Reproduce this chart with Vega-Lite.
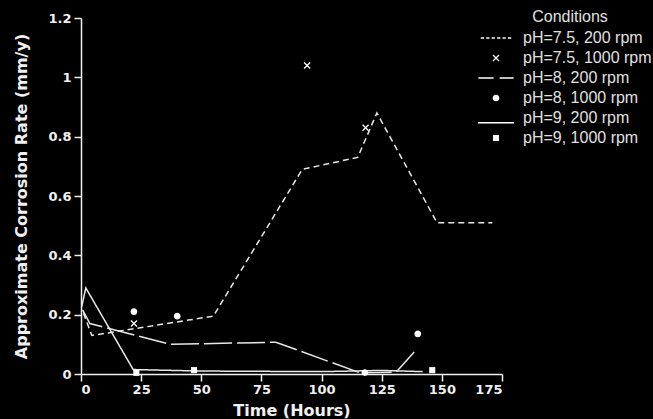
{
  "$schema": "https://vega.github.io/schema/vega-lite/v6.json",
  "width": 421,
  "height": 356,
  "autosize": "none",
  "padding": {"left": 81, "top": 18, "right": 151, "bottom": 45},
  "background": "black",
  "config": {
    "view": {"stroke": null},
    "axis": {
      "grid": false,
      "domainColor": "#f0f0f0",
      "domainWidth": 1.5,
      "tickColor": "#f0f0f0",
      "tickWidth": 1.5,
      "tickSize": 7,
      "labelColor": "#f0f0f0",
      "labelFont": "DejaVu Sans",
      "labelFontWeight": "bold",
      "labelFontSize": 13,
      "titleColor": "#f0f0f0",
      "titleFont": "DejaVu Sans",
      "titleFontWeight": "bold",
      "titleFontSize": 16
    }
  },
  "datasets": {
    "lines": [
      {"cond": "pH=7.5, 200 rpm", "t": 1, "rate": 0.205},
      {"cond": "pH=7.5, 200 rpm", "t": 4.5, "rate": 0.13},
      {"cond": "pH=7.5, 200 rpm", "t": 55, "rate": 0.195},
      {"cond": "pH=7.5, 200 rpm", "t": 92, "rate": 0.69},
      {"cond": "pH=7.5, 200 rpm", "t": 115, "rate": 0.73},
      {"cond": "pH=7.5, 200 rpm", "t": 123, "rate": 0.88},
      {"cond": "pH=7.5, 200 rpm", "t": 148, "rate": 0.51},
      {"cond": "pH=7.5, 200 rpm", "t": 171, "rate": 0.51},
      {"cond": "pH=8, 200 rpm", "t": 0.7, "rate": 0.215},
      {"cond": "pH=8, 200 rpm", "t": 3.7, "rate": 0.17},
      {"cond": "pH=8, 200 rpm", "t": 37, "rate": 0.1},
      {"cond": "pH=8, 200 rpm", "t": 81, "rate": 0.107},
      {"cond": "pH=8, 200 rpm", "t": 116, "rate": 0.004},
      {"cond": "pH=8, 200 rpm", "t": 131, "rate": 0.006},
      {"cond": "pH=8, 200 rpm", "t": 138.5, "rate": 0.074},
      {"cond": "pH=9, 200 rpm", "t": 0.3, "rate": 0.227},
      {"cond": "pH=9, 200 rpm", "t": 2, "rate": 0.29},
      {"cond": "pH=9, 200 rpm", "t": 21.7, "rate": 0.015},
      {"cond": "pH=9, 200 rpm", "t": 50, "rate": 0.01},
      {"cond": "pH=9, 200 rpm", "t": 100, "rate": 0.008},
      {"cond": "pH=9, 200 rpm", "t": 125, "rate": 0.012},
      {"cond": "pH=9, 200 rpm", "t": 142, "rate": 0.008}
    ],
    "points": [
      {"cond": "pH=7.5, 1000 rpm", "t": 22, "rate": 0.17},
      {"cond": "pH=7.5, 1000 rpm", "t": 94, "rate": 1.04},
      {"cond": "pH=7.5, 1000 rpm", "t": 118.3, "rate": 0.83},
      {"cond": "pH=8, 1000 rpm", "t": 22, "rate": 0.21},
      {"cond": "pH=8, 1000 rpm", "t": 40, "rate": 0.195},
      {"cond": "pH=8, 1000 rpm", "t": 118, "rate": 0.005},
      {"cond": "pH=8, 1000 rpm", "t": 140, "rate": 0.135},
      {"cond": "pH=9, 1000 rpm", "t": 23, "rate": 0.004},
      {"cond": "pH=9, 1000 rpm", "t": 47, "rate": 0.013},
      {"cond": "pH=9, 1000 rpm", "t": 146, "rate": 0.013}
    ]
  },
  "layer": [
    {
      "data": {"name": "lines"},
      "mark": {"type": "line", "color": "#e8e8e8", "strokeWidth": 1.5},
      "encoding": {
        "x": {
          "field": "t", "type": "quantitative",
          "scale": {"domain": [0, 175], "nice": false},
          "axis": {"values": [0, 25, 50, 75, 100, 125, 150, 175], "title": "Time (Hours)", "labelPadding": 2, "titlePadding": 6}
        },
        "y": {
          "field": "rate", "type": "quantitative",
          "scale": {"domain": [0, 1.2], "nice": false},
          "axis": {"values": [0, 0.2, 0.4, 0.6, 0.8, 1, 1.2], "format": "~g", "title": "Approximate Corrosion Rate (mm/y)", "labelPadding": 3, "titlePadding": 18}
        },
        "strokeDash": {
          "field": "cond", "type": "nominal",
          "scale": {"domain": ["pH=7.5, 200 rpm", "pH=8, 200 rpm", "pH=9, 200 rpm"], "range": [[6, 4], [28, 5], [1, 0]]},
          "legend": null
        }
      }
    },
    {
      "data": {"name": "points"},
      "mark": {"type": "point", "filled": true, "color": "white", "size": 256, "opacity": 1},
      "encoding": {
        "x": {"field": "t", "type": "quantitative"},
        "y": {"field": "rate", "type": "quantitative"},
        "shape": {
          "field": "cond", "type": "nominal",
          "scale": {
            "domain": ["pH=7.5, 200 rpm", "pH=7.5, 1000 rpm", "pH=8, 200 rpm", "pH=8, 1000 rpm", "pH=9, 200 rpm", "pH=9, 1000 rpm"],
            "range": [
              "M-1.9,-0.09H-1.5V0.09H-1.9ZM-1.22,-0.09H-0.82V0.09H-1.22ZM-0.54,-0.09H-0.14V0.09H-0.54ZM0.14,-0.09H0.54V0.09H0.14ZM0.82,-0.09H1.22V0.09H0.82ZM1.5,-0.09H1.9V0.09H1.5Z",
              "M-0.318,-0.432L0.432,0.318L0.318,0.432L-0.432,-0.318ZM0.432,-0.318L-0.318,0.432L-0.432,0.318L0.318,-0.432Z",
              "M-2.2,-0.09H-0.3V0.09H-2.2ZM0.45,-0.09H2.2V0.09H0.45Z",
              "M-0.42,0A0.42,0.42 0 1,0 0.42,0A0.42,0.42 0 1,0 -0.42,0Z",
              "M-2.25,0.5H2.25V0.68H-2.25Z",
              "M-0.38,-0.38H0.38V0.38H-0.38Z"
            ]
          },
          "legend": {
            "title": "Conditions",
            "orient": "none",
            "legendX": 407,
            "legendY": -9,
            "titleFont": "Liberation Sans",
            "titleFontSize": 16,
            "titleFontWeight": "normal",
            "titleColor": "#e0e0e0",
            "titleAnchor": "middle",
            "titlePadding": 5,
            "labelFont": "Liberation Sans",
            "labelFontSize": 16,
            "labelColor": "#e0e0e0",
            "labelOffset": 19,
            "rowPadding": 4,
            "symbolSize": 256,
            "symbolStrokeWidth": 0,
            "symbolFillColor": "white",
            "symbolOpacity": 1
          }
        }
      }
    }
  ]
}
